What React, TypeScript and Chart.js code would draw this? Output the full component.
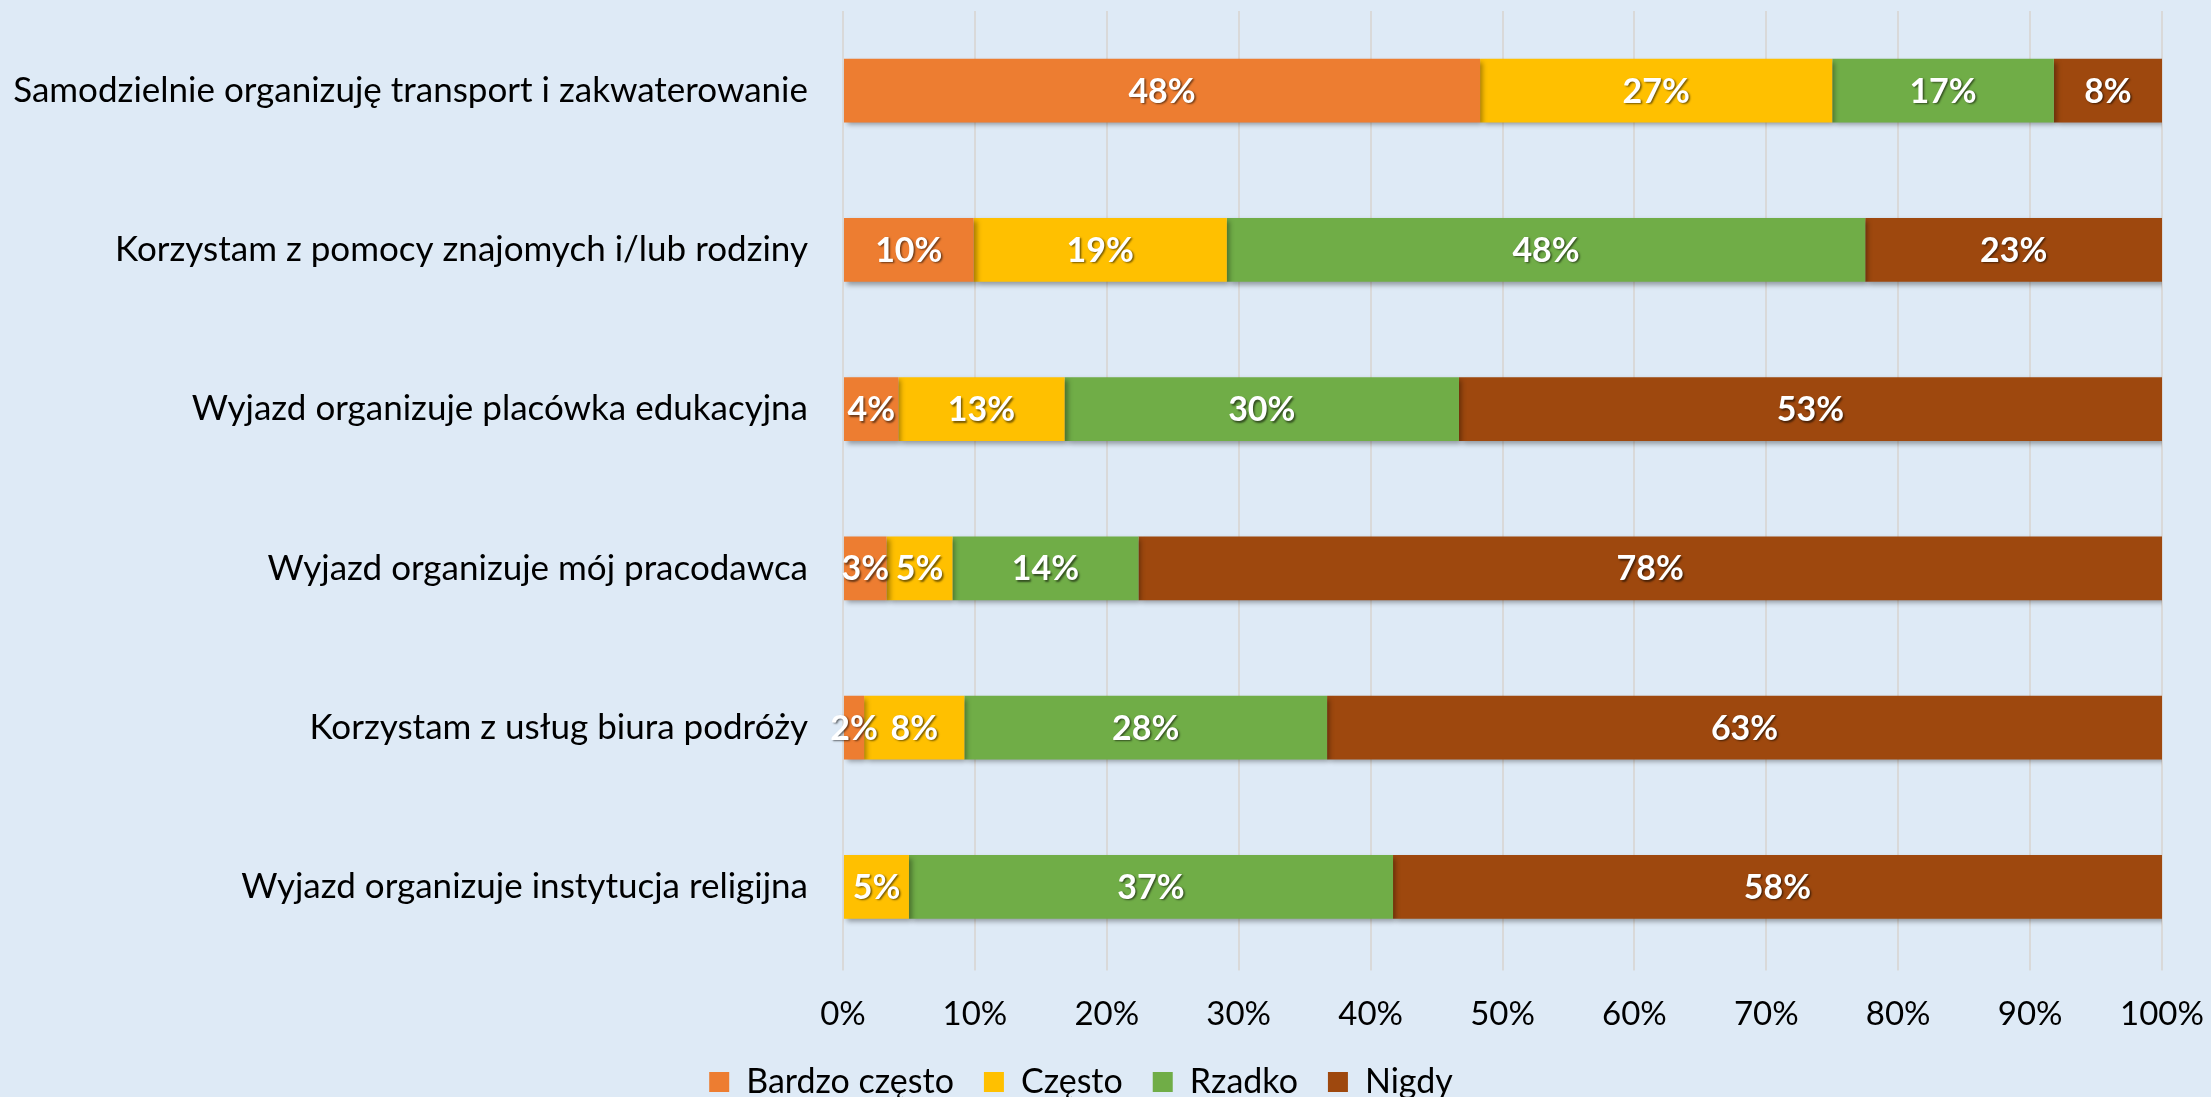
import React, { useEffect, useRef } from "react";
import { Chart, registerables } from "chart.js";

Chart.register(...registerables);

const categories = [
  "Samodzielnie organizuję transport i zakwaterowanie",
  "Korzystam z pomocy znajomych i/lub rodziny",
  "Wyjazd organizuje placówka edukacyjna",
  "Wyjazd organizuje mój pracodawca",
  "Korzystam z usług biura podróży",
  "Wyjazd organizuje instytucja religijna",
];
const seriesNames = ["Bardzo często", "Często", "Rzadko", "Nigdy"];
const bardzoCzesto = [48.3, 9.9, 4.2, 3.3, 1.6, 0];
const czesto = [26.7, 19.2, 12.6, 5.0, 7.6, 5.0];
const rzadko = [16.8, 48.4, 29.9, 14.1, 27.5, 36.7];
const nigdy = [8.2, 22.5, 53.3, 77.6, 63.3, 58.3];
const colors = ["#ED7D31", "#FFC000", "#70AD47", "#9E480E"];
const xTicks = [0, 10, 20, 30, 40, 50, 60, 70, 80, 90, 100];

const FONT = "Lato, 'Open Sans', sans-serif";
const BG = "#DEEAF6";

const shadowPlugin = {
  id: "barShadow",
  beforeDatasetDraw(chart: any) {
    const ctx = chart.ctx;
    ctx.save();
    ctx.shadowColor = "rgba(0,0,0,0.35)";
    ctx.shadowBlur = 5;
    ctx.shadowOffsetX = 3;
    ctx.shadowOffsetY = 3;
  },
  afterDatasetDraw(chart: any) {
    chart.ctx.restore();
  },
};

// tighten the gap between the x-axis labels and the legend
const legendTweak = {
  id: "legendTweak",
  beforeLayout(chart: any) {
    const lg = chart.legend;
    if (!lg || lg._tweaked) return;
    lg._tweaked = true;
    const origFit = lg.fit.bind(lg);
    lg.fit = function () {
      origFit();
      this.height = Math.max(0, this.height - 35);
    };
    const origDraw = lg.draw.bind(lg);
    lg.draw = function (...args: any[]) {
      const t = this.top;
      this.top = t - 23;
      origDraw(...args);
      this.top = t;
    };
  },
};

const labelPlugin = {
  id: "segLabels",
  afterDatasetsDraw(chart: any) {
    const ctx = chart.ctx;
    chart.data.datasets.forEach((ds: any, di: number) => {
      const meta = chart.getDatasetMeta(di);
      meta.data.forEach((el: any, i: number) => {
        const v = ds.data[i];
        if (!v) return;
        const cx = (el.x + el.base) / 2;
        ctx.save();
        ctx.font = `bold 34px ${FONT}`;
        ctx.textAlign = "center";
        ctx.textBaseline = "middle";
        ctx.shadowColor = "rgba(0,0,0,0.55)";
        ctx.shadowBlur = 2;
        ctx.shadowOffsetX = 1.5;
        ctx.shadowOffsetY = 1.5;
        ctx.fillStyle = "#FFFFFF";
        ctx.fillText(Math.round(v) + "%", cx, el.y + 1);
        ctx.restore();
      });
    });
  },
};

export default function App() {
  const ref = useRef<HTMLCanvasElement>(null);
  useEffect(() => {
    document.body.style.margin = "0";
    document.body.style.background = BG;
    const seriesData = [bardzoCzesto, czesto, rzadko, nigdy];
    const chart = new Chart(ref.current!, {
      type: "bar",
      data: {
        labels: categories,
        datasets: seriesNames.map((n, k) => ({
          label: n,
          data: seriesData[k],
          backgroundColor: colors[k],
          borderWidth: 0,
          barPercentage: 0.4,
          categoryPercentage: 1,
        })),
      },
      options: {
        indexAxis: "y",
        responsive: false,
        animation: false,
        layout: { padding: { top: 11, right: 49, left: 0, bottom: 0 } },
        scales: {
          x: {
            stacked: true,
            min: 0,
            max: 100,
            afterBuildTicks: (s: any) => {
              s.ticks = xTicks.map((v) => ({ value: v }));
            },
            afterFit: (s: any) => {
              s.paddingLeft = 0;
              s.paddingRight = 0;
            },
            ticks: {
              callback: (v: any) => v + "%",
              color: "#000",
              font: { family: FONT, size: 33 },
              padding: 24,
              maxRotation: 0,
            },
            grid: { color: "#D9D9D9", lineWidth: 2, drawTicks: true, tickLength: 4 },
            border: { display: false },
          },
          y: {
            stacked: true,
            afterFit: (s: any) => {
              s.width = 843;
              s.paddingTop = 0;
              s.paddingBottom = 0;
            },
            ticks: {
              color: "#000",
              font: { family: FONT, size: 35 },
              padding: 35,
            },
            grid: { display: false, drawTicks: false },
            border: { display: false },
          },
        },
        plugins: {
          legend: {
            position: "bottom",
            labels: {
              color: "#000",
              font: { family: FONT, size: 34 },
              boxWidth: 20,
              boxHeight: 20,
              padding: 30,
            },
          },
          tooltip: { enabled: false },
        },
      },
      plugins: [legendTweak, shadowPlugin, labelPlugin],
    } as any);
    return () => chart.destroy();
  }, []);
  return (
    <div style={{ width: 2211, height: 1097, background: BG }}>
      <canvas ref={ref} width={2211} height={1097} style={{ display: "block" }} />
    </div>
  );
}
